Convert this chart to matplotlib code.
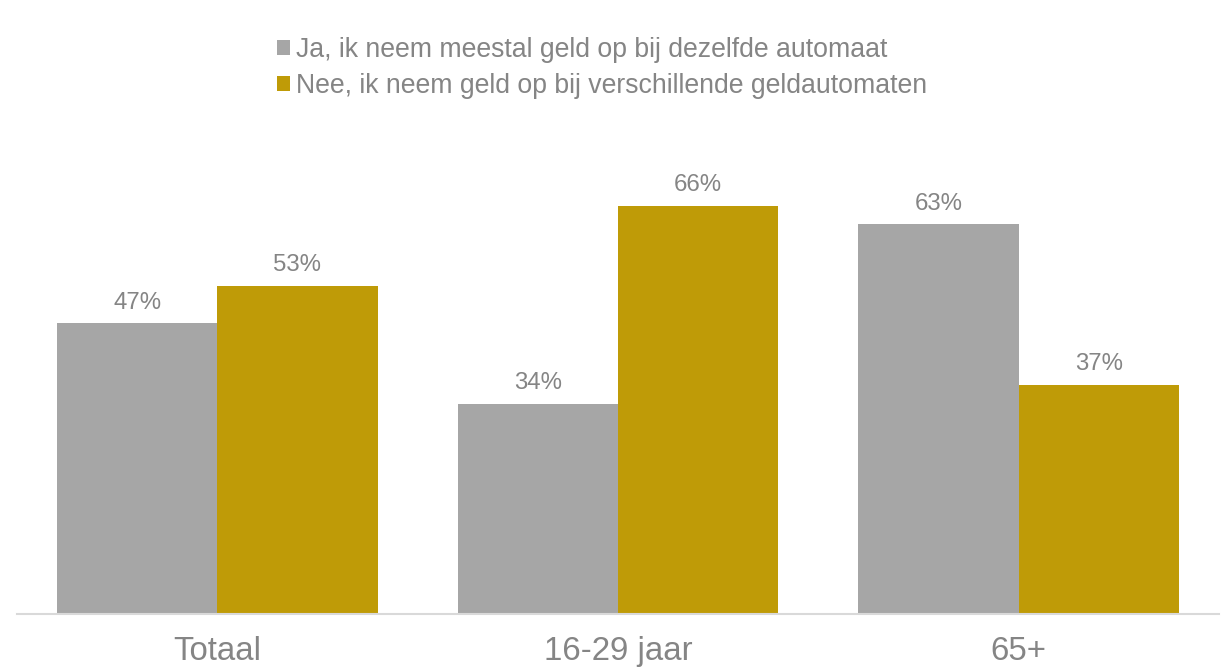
import matplotlib
matplotlib.use("Agg")
import matplotlib.pyplot as plt
import numpy as np

categories = ["Totaal", "16-29 jaar", "65+"]
series_names = ["Ja, ik neem meestal geld op bij dezelfde automaat",
                "Nee, ik neem geld op bij verschillende geldautomaten"]
ja_values = [47, 34, 63]
nee_values = [53, 66, 37]

colors = ["#A6A6A6", "#BF9B07"]
text_color = "#858585"

plt.rcParams['font.family'] = ['Liberation Sans', 'DejaVu Sans']

fig = plt.figure(figsize=(12.23, 6.70), dpi=100)
ax = fig.add_axes([17/1223, 56/670, 1202/1223, 464/670])

x = np.arange(len(categories))
w = 0.4
b1 = ax.bar(x - w/2, ja_values, w, color=colors[0], label=series_names[0])
b2 = ax.bar(x + w/2, nee_values, w, color=colors[1], label=series_names[1])

for bars, vals in ((b1, ja_values), (b2, nee_values)):
    for rect, v in zip(bars, vals):
        ax.annotate(f"{v}%", (rect.get_x() + rect.get_width()/2, rect.get_height()),
                    xytext=(0, 7), textcoords="offset points",
                    ha="center", va="bottom", fontsize=17.3, color=text_color)

ax.set_xlim(-0.5, 2.5)
ax.set_ylim(0, 75)
ax.set_xticks(x)
ax.set_xticklabels(categories, fontsize=23.8, color=text_color)
ax.tick_params(axis='x', length=0, pad=16)
ax.set_yticks([])
for s in ("top", "right", "left"):
    ax.spines[s].set_visible(False)
ax.spines["bottom"].set_color("#D9D9D9")
ax.spines["bottom"].set_linewidth(1.5)

leg = fig.legend(handles=[b1, b2], labels=series_names, loc="upper left",
                 bbox_to_anchor=(277/1223, 1 - 37/670), frameon=False,
                 fontsize=19.2, handlelength=0.5, handleheight=0.5,
                 handletextpad=0.2, labelspacing=0.38, borderaxespad=0, borderpad=0)
for t in leg.get_texts():
    t.set_color(text_color)

fig.savefig("out.png", dpi=100)
